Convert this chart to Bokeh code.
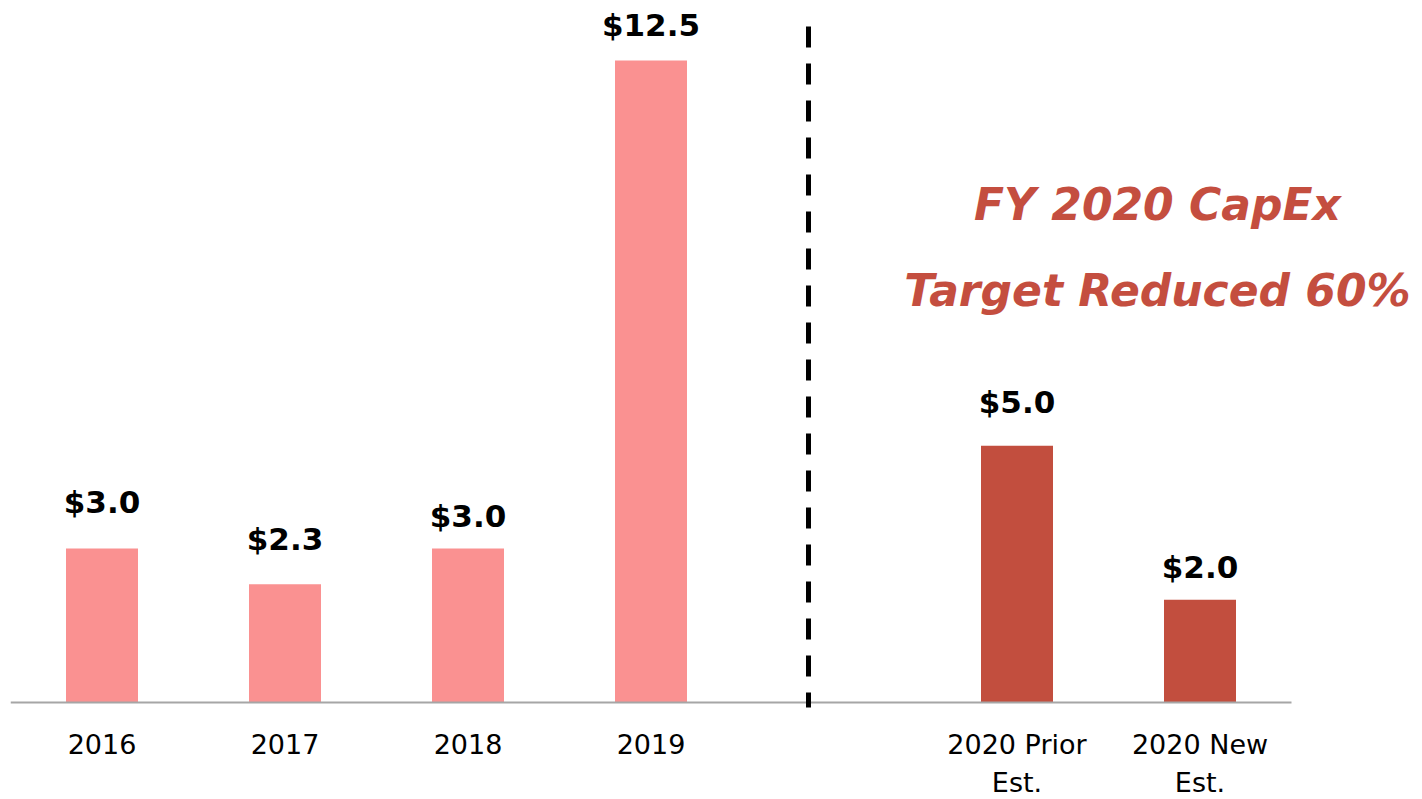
from bokeh.plotting import figure
from bokeh.models import Range1d, FixedTicker, Label, ColumnDataSource
from bokeh.core.properties import value
from bokeh.embed import file_html
from bokeh.resources import INLINE

# ---- data ----
categories = ["2016", "2017", "2018", "2019", "2020 Prior\nEst.", "2020 New\nEst."]
values = [3.0, 2.3, 3.0, 12.5, 5.0, 2.0]
labels = ["$3.0", "$2.3", "$3.0", "$12.5", "$5.0", "$2.0"]
slots = [0.5, 1.5, 2.5, 3.5, 5.5, 6.5]
kinds = ["hist", "hist", "hist", "hist", "est", "est"]
callout = ["FY 2020 CapEx", "Target Reduced 60%"]

# ---- styles ----
LIGHT = "#FA9191"
DARK = "#C24E3E"
TEXT_RED = "#C44E3F"
colors = [LIGHT if k == "hist" else DARK for k in kinds]
label_offsets = [-46, -45, -32, -36, -44, -33]

SLOT_PX = 183.0
PX_PER_UNIT = 51.36
FRAME_W = 1404
FRAME_H = 704

p = figure(
    frame_width=FRAME_W, frame_height=FRAME_H,
    x_range=Range1d(0, FRAME_W / SLOT_PX),
    y_range=Range1d(-10 / PX_PER_UNIT, (FRAME_H - 10) / PX_PER_UNIT),
    output_backend="svg", toolbar_location=None,
    min_border_left=10, min_border_right=0, min_border_top=8, min_border_bottom=0,
)
p.outline_line_color = None
p.grid.visible = False
p.yaxis.visible = False
p.background_fill_color = "white"
p.border_fill_color = "white"

src = ColumnDataSource(dict(x=slots, top=values, color=colors, label=labels, yoff=label_offsets))
p.vbar(x="x", top="top", bottom=0, width=72 / SLOT_PX, fill_color="color", line_color=None, source=src)

# baseline
p.segment(x0=[0], y0=[0], x1=[7], y1=[0], line_color="#A6A6A6", line_width=2)

# divider
div_x = (808 - 10) / SLOT_PX
p.segment(x0=[div_x], y0=[(702 - 26) / PX_PER_UNIT], x1=[div_x], y1=[-5 / PX_PER_UNIT],
          line_color="black", line_width=5, line_dash="21 16")

# value labels
p.text(x="x", y="top", text="label", source=src, y_offset="yoff",
       text_align="center", text_baseline="alphabetic",
       text_font=value("DejaVu Sans"), text_font_style="bold", text_font_size="31px",
       text_color="black")

# callout
cx = (1157 - 10) / SLOT_PX
for line, sy in zip(callout, [204, 290]):
    p.add_layout(Label(x=cx, y=(702 - sy) / PX_PER_UNIT, text=line, text_align="center",
                       text_baseline="alphabetic", text_font="DejaVu Sans",
                       text_font_style="bold italic", text_font_size="44px",
                       text_color=TEXT_RED))

ax = p.xaxis[0]
ax.ticker = FixedTicker(ticks=slots)
ax.major_label_overrides = {s: c for s, c in zip(slots, categories)}
ax.axis_line_color = None
ax.major_tick_line_color = None
ax.minor_tick_line_color = None
ax.major_tick_out = 0
ax.major_tick_in = 0
ax.major_label_standoff = 16
ax.major_label_text_font = "DejaVu Sans"
ax.major_label_text_font_size = "27px"
ax.major_label_text_color = "black"
ax.major_label_text_line_height = 1.25

open("out.html", "w").write(file_html(p, INLINE))
